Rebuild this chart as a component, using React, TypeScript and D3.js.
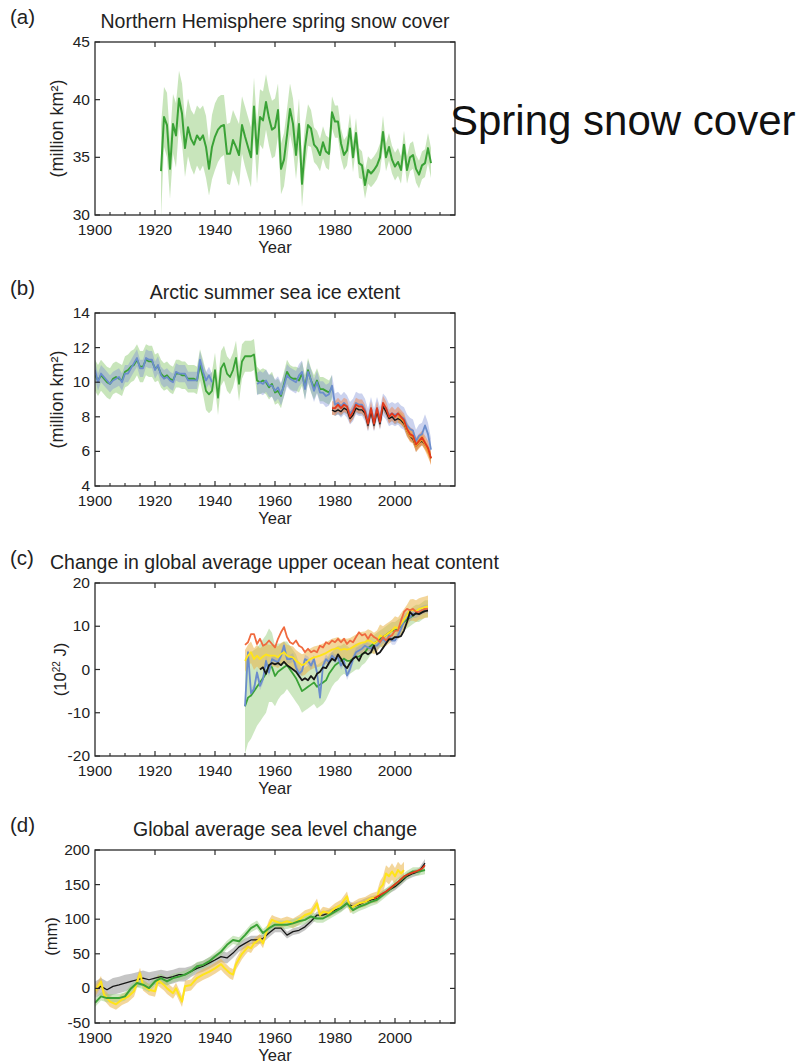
import React from "react";
import * as d3 from "d3";

const FONT = "'Liberation Sans', Arial, Helvetica, sans-serif";

// ---------- shared axis data ----------
const xDomain = [1900, 2020];
const xTickLabels = [1900, 1920, 1940, 1960, 1980, 2000];

// ---------- (a) Northern Hemisphere spring snow cover ----------
const snowStart = 1922;
const snowValues = [
  33.8, 38.5, 37.8, 34.0, 37.9, 36.9, 40.1, 38.8, 35.8, 37.6,
  36.6, 36.1, 36.9, 36.5, 36.9, 35.9, 34.0, 35.9, 36.8, 37.4,
  37.7, 37.8, 35.3, 35.3, 36.5, 35.9, 35.2, 37.8, 36.8, 35.9,
  35.0, 39.4, 35.3, 38.5, 38.2, 39.8, 38.4, 37.4, 37.6, 39.1,
  34.0, 34.8, 36.9, 39.2, 37.9, 35.2, 37.9, 32.7, 35.9, 37.8,
  37.5, 36.1, 35.8, 35.2, 36.3, 35.5, 35.3, 38.9, 38.1, 38.1,
  36.2, 35.2, 35.6, 37.5, 35.0, 37.1, 34.5, 34.3, 32.6, 33.9,
  33.6, 33.9, 34.3, 35.0, 37.2, 35.0, 35.9, 34.8, 34.2, 34.6,
  33.9, 36.1, 33.9, 35.0, 35.2, 34.0, 33.5, 34.3, 34.5, 35.8,
  34.5,
];
const snowUnc = [
  4.0, 2.6, 2.8, 2.6, 2.6, 2.8, 2.4, 2.6, 2.5, 2.5,
  2.5, 2.6, 2.6, 2.7, 2.6, 2.7, 2.3, 2.8, 2.9, 2.8,
  2.7, 2.6, 2.6, 2.7, 2.6, 2.6, 2.7, 2.5, 2.6, 2.6,
  2.6, 2.5, 2.6, 2.4, 2.5, 2.4, 2.4, 2.5, 2.5, 2.3,
  2.2, 2.3, 2.3, 2.2, 2.2, 2.1, 2.2, 2.0, 2.0, 1.8,
  1.6, 1.5, 1.5, 1.4, 1.4, 1.4, 1.4, 1.4, 1.4, 1.4,
  1.3, 1.3, 1.3, 1.3, 1.3, 1.3, 1.3, 1.2, 1.2, 1.2,
  1.2, 1.2, 1.2, 1.2, 1.4, 1.2, 1.2, 1.2, 1.2, 1.2,
  1.2, 1.2, 1.2, 1.2, 1.2, 1.2, 1.2, 1.2, 1.2, 1.3,
  1.3,
];

// ---------- (b) Arctic summer sea ice extent ----------
const iceGreenStart = 1900;
const iceGreen = [
  10.4, 10.1, 10.4, 10.2, 10.0, 9.9, 10.2, 10.3, 10.2, 10.1,
  10.6, 10.7, 10.9, 11.0, 11.3, 10.9, 10.9, 11.3, 11.2, 11.2,
  10.8, 10.9, 10.5, 10.3, 10.4, 10.2, 10.1, 10.5, 10.5, 10.4,
  10.4, 10.2, 10.2, 10.2, 10.1, 11.0, 10.3, 9.5, 9.3, 9.5,
  10.7, 9.1, 10.8, 11.1, 10.5, 10.3, 10.7, 11.4, 9.9, 11.2,
  11.5, 11.5, 11.5, 11.6, 10.1, 10.0, 10.1, 10.0, 9.7, 9.9,
  9.4, 9.5, 9.2, 9.9, 10.6, 10.3, 10.2, 10.2, 10.1, 10.5,
  9.7, 10.7, 10.1, 9.7, 10.1, 9.6, 9.6, 9.5, 9.4, 9.7,
];
const iceGreenUnc = [
  0.9, 0.9, 0.9, 0.9, 0.9, 0.9, 0.9, 0.9, 0.9, 0.9,
  0.9, 0.9, 0.9, 0.9, 0.9, 0.9, 0.9, 0.9, 0.9, 0.9,
  0.8, 0.8, 0.8, 0.8, 0.8, 0.8, 0.8, 0.8, 0.8, 0.8,
  0.8, 0.8, 0.8, 0.8, 0.8, 0.9, 1.0, 1.1, 1.1, 1.1,
  1.0, 1.0, 1.0, 1.0, 1.0, 1.0, 1.0, 1.0, 1.0, 1.0,
  0.9, 0.9, 0.9, 0.9, 0.8, 0.7, 0.7, 0.7, 0.7, 0.7,
  0.7, 0.7, 0.7, 0.7, 0.7, 0.7, 0.7, 0.7, 0.7, 0.7,
  0.7, 0.7, 0.7, 0.7, 0.7, 0.7, 0.7, 0.7, 0.7, 0.7,
];
const iceBlueEarlyStart = 1900;
const iceBlueEarly = [
  10.7, 10.0, 10.5, 10.3, 10.1, 9.9, 10.1, 10.2, 10.3, 10.0,
  10.5, 10.5, 10.8, 11.1, 11.4, 10.8, 10.8, 11.4, 11.3, 11.3,
  10.7, 11.0, 10.4, 10.2, 10.3, 10.1, 10.0, 10.6, 10.5, 10.5,
  10.5, 10.1, 10.1, 10.1, 10.1, 11.3, 10.6, 10.1, 10.4, 10.0,
];
const iceBlueLateStart = 1954;
const iceBlueLate = [
  9.9, 10.0, 9.9, 10.1, 9.8, 9.8,
  9.5, 9.7, 9.3, 9.8, 10.4, 10.2, 10.1, 10.0, 10.4, 10.6,
  9.6, 10.6, 10.1, 9.5, 10.0, 9.4, 9.4, 9.2, 9.3, 9.8,
  8.7, 8.8, 8.6, 8.8, 8.6, 8.2, 8.4, 8.8, 8.7, 8.7,
  8.4, 7.8, 8.5, 7.8, 8.5, 7.9, 8.7, 8.5, 8.1, 8.2,
  8.1, 8.2, 8.0, 7.9, 7.5, 7.3, 7.2, 6.6, 6.9, 7.0,
  7.5, 7.0, 6.1,
];
const iceRedStart = 1979;
const iceRed = [
  8.5, 8.5, 8.7, 8.5, 8.7, 8.6, 8.0, 8.3, 8.7, 8.6, 8.6,
  8.3, 7.6, 8.5, 7.6, 8.5, 7.7, 8.8, 8.5, 8.0, 8.2,
  8.0, 8.2, 8.0, 7.8, 7.3, 7.0, 6.9, 6.4, 6.6, 6.8,
  6.5, 6.2, 5.6,
];
const iceBlackStart = 1979;
const iceBlack = [
  8.4, 8.3, 8.4, 8.3, 8.5, 8.4, 7.9, 8.1, 8.5, 8.4, 8.4,
  8.2, 7.5, 8.3, 7.5, 8.3, 7.6, 8.6, 8.3, 7.9, 8.0,
  7.8, 7.9, 7.8, 7.6, 7.2, 6.9, 6.7, 6.3, 6.5, 6.6,
  6.4, 6.1, 5.6,
];
const iceOrangeStart = 2001;
const iceOrange = [8.0, 7.9, 7.7, 7.2, 6.9, 6.8, 6.3, 6.5, 6.7, 6.4, 6.0, 5.6];

// ---------- (c) Upper ocean heat content ----------
const ohcStart = 1950;
const ohcRed = [
  5.7, 6.3, 8.2, 8.2, 5.9, 7.1, 5.5, 5.9, 6.7, 5.9,
  5.1, 7.1, 8.6, 9.8, 7.5, 6.3, 5.9, 6.7, 5.5, 5.1,
  4.0, 4.8, 4.0, 4.4, 4.0, 5.5, 5.1, 6.3, 5.9, 6.7,
  6.3, 7.1, 6.3, 7.1, 5.9, 6.7, 6.3, 7.5, 8.6, 7.9,
  8.2, 7.1, 8.2, 7.5, 7.1, 6.3, 7.5, 6.7, 7.5, 7.9,
  9.0, 9.0, 11.3, 13.3, 14.0, 13.7, 14.0, 13.3, 13.3, 13.7,
  14.0, 14.0,
];
const ohcYellow = [
  2.0, 3.2, 4.0, 2.4, 3.2, 2.4, 3.0, 3.5, 3.2, 3.2,
  3.2, 2.8, 3.6, 4.0, 3.2, 3.0, 2.8, 2.0, 1.5, 1.0,
  1.3, 2.0, 2.5, 2.8, 3.0, 3.2, 3.5, 3.8, 4.2, 4.6,
  4.8, 5.0, 4.5, 4.8, 4.6, 4.8, 5.2, 5.6, 6.0, 6.2,
  6.3, 6.8, 6.5, 6.0, 6.5, 7.9, 7.5, 8.0, 8.5, 9.0,
  9.8, 9.5, 10.5, 11.5, 12.5, 13.7, 13.8, 13.5, 14.0, 14.2,
  14.4, 14.6,
];
const ohcBlue = [
  -8.5, 4.0, -5.5, -4.5, -0.7, -3.8, -2.2, 2.0, -0.7, 2.4,
  2.0, 1.7, 3.2, 5.5, 2.4, 2.4, 2.8, 0.5, -1.0, -0.3,
  2.4, 2.0, 0.9, 2.4, -0.7, -6.5, 0.9, 2.4, 1.7, 3.2,
  2.4, 2.8, 0.9, 2.0, -1.4, 0.1, 2.4, 4.0, 4.4, 4.8,
  5.5, 5.1, 4.8, 5.5, 5.5, 6.3, 7.1, 6.3, 7.9, 6.7,
  6.7, 7.9, 9.4, 11.3, 12.1, 12.1, 12.9, 12.9, 13.3, 13.7,
  14.0, 14.0,
];
const ohcGreen = [
  -8.5, -6.5, -6.0, -5.0, -4.0, -3.0, -2.0, -1.0, 1.0, 0.5,
  -1.5, -0.5, 0.0, 0.5, 1.0, 0.0, -1.0, -2.0, -3.5, -5.0,
  -4.5, -4.0, -3.5, -3.0, -4.0, -3.5, -3.0, -2.5, -1.0, 0.0,
  1.0, 1.5, 2.0, 2.5, 2.0, 2.0, 2.5, 3.0, 3.0, 3.5,
  4.0, 5.0, 5.5, 6.0, 6.5, 7.0, 7.5, 8.0, 8.5, 9.0,
  9.0, 9.5, 10.0, 11.0, 11.5, 12.0, 12.5, 13.0, 13.0, 13.5,
  14.0, 14.0,
];
const ohcGreenUnc = [
  11, 10.5, 10, 9.5, 9, 9, 9, 9, 8.5, 8,
  7, 6.5, 6, 6, 5.5, 5.5, 5.5, 5.5, 5, 5,
  5, 5, 5, 5, 5, 5, 5, 4.5, 4.5, 4,
  4, 4, 3.5, 3.5, 3.5, 3, 3, 3, 3, 2.5,
  2.5, 2.5, 2, 2, 2, 2, 2, 2, 2, 2,
  2, 2, 2, 2, 2, 2, 2, 2, 2, 2,
  2, 2,
];
const ohcBlackStart = 1955;
const ohcBlack = [
  0.0, 0.5, -1.0, 1.0, 1.5,
  1.2, 1.5, 1.0, 1.8, 1.0, 0.5, 0.0, -0.5, -1.5, -2.5,
  -2.0, -2.5, -1.5, -2.3, -1.0, -0.5, 0.5, 0.3, 1.5, 2.5,
  2.0, 3.5, 2.5, 1.0, 0.3, 1.5, 2.5, 3.0, 2.0, 3.5,
  4.0, 3.5, 4.0, 5.5, 3.5, 4.0, 5.0, 6.0, 7.0, 7.0,
  7.5, 7.5, 7.7, 9.0, 11.0, 13.3, 12.5, 13.0, 12.8, 13.2,
  13.5, 13.6,
];

// ---------- (d) Global average sea level ----------
const slYears2 = [
  1900, 1902, 1904, 1906, 1908, 1910, 1912, 1914, 1916, 1918,
  1920, 1922, 1924, 1926, 1928, 1930, 1932, 1934, 1936, 1938,
  1940, 1942, 1944, 1946, 1948, 1950, 1952, 1954, 1956, 1958,
  1960, 1962, 1964, 1966, 1968, 1970, 1972, 1974, 1976, 1978,
  1980, 1982, 1984, 1986, 1988, 1990, 1992, 1994, 1996, 1998,
  2000, 2002, 2004, 2006, 2008, 2010,
];
const slGreen = [
  -21, -11.5, -14, -14, -14, -11.5, 0, 7.7, 5.3, 0.5,
  10, 15, 10, 15, 17, 20, 24.5, 32, 34, 39,
  46, 53, 63, 70, 68, 77, 87, 92, 80, 87,
  92, 92, 92, 94, 97, 99, 104, 101, 101, 106,
  111, 116, 123, 113, 118, 121, 125, 128, 135, 142,
  150, 157, 164, 169, 169, 171,
];
const slBlack = [
  -2, 3, -2, 3, 5, 7.7, 10, 12.5, 15, 12.5,
  15, 17, 15, 17, 20, 20, 24.5, 29, 32, 36.5,
  41, 46, 44, 51, 60, 65, 70, 70, 72, 80,
  87, 87, 77, 82, 84, 89, 97, 106, 106, 109,
  113, 116, 123, 118, 121, 125, 128, 130, 137, 142,
  147, 154, 162, 166, 169, 181,
];
const slBlackUnc = [
  12, 12, 12, 12, 12, 12, 11, 11, 11, 11,
  10, 10, 10, 10, 10, 10, 8, 8, 8, 8,
  8, 8, 8, 7, 7, 7, 6, 6, 6, 6,
  6, 6, 5, 5, 5, 5, 5, 5, 5, 5,
  5, 5, 5, 5, 5, 5, 5, 5, 5, 5,
  5, 5, 5, 5, 5, 6,
];
const slYellowYears = [
  1900, 1902, 1903, 1905, 1907, 1909, 1911, 1913, 1915, 1916,
  1918, 1920, 1921, 1923, 1924, 1926, 1927, 1929, 1930, 1932,
  1934, 1936, 1938, 1940, 1942, 1943, 1945, 1946, 1947, 1949,
  1950, 1951, 1952, 1953, 1954, 1955, 1956, 1957, 1958, 1959,
  1960, 1962, 1964, 1966, 1968, 1970, 1972, 1974, 1975, 1976,
  1978, 1980, 1982, 1984, 1985, 1986, 1988, 1990, 1992, 1994,
  1995, 1996, 1997, 1998, 1999, 2000, 2001, 2002, 2003,
];
const slYellow = [
  -4, 10, -9, -19, -23, -16, -12, -4, 22, 5,
  -2, -4, 12, 5, 0, -7, 0, -19, 3, 5,
  15, 20, 24, 29, 35, 30, 22, 20, 35, 50,
  55, 60, 58, 65, 68, 72, 65, 80, 92, 99,
  97, 94, 97, 94, 99, 106, 109, 123, 106, 111,
  109, 116, 121, 133, 116, 118, 123, 125, 130, 132,
  145, 150, 166, 162, 169, 162, 171, 166, 171,
];
const slYellowUnc = [
  8, 8, 8, 8, 8, 8, 8, 8, 8, 8,
  8, 8, 8, 8, 8, 8, 8, 8, 8, 8,
  8, 8, 8, 8, 8, 8, 8, 8, 8, 8,
  7, 7, 7, 7, 7, 7, 7, 7, 7, 7,
  7, 7, 7, 7, 7, 7, 7, 7, 7, 7,
  7, 7, 7, 7, 7, 7, 7, 7, 7, 8,
  10, 12, 12, 12, 12, 12, 12, 12, 12,
];
const slRedYears = [1993, 1995, 1997, 1999, 2001, 2003, 2005, 2007, 2009, 2010];
const slRed = [130, 135, 140, 147, 154, 162, 166, 169, 173, 178];

// ---------- colours ----------
const C = {
  green: "#3aa236",
  greenBand: "#9bcf84",
  blue: "#6b8dcc",
  blueBand: "#7e8fd4",
  black: "#161616",
  grayBand: "#8c8c8c",
  red: "#e2391c",
  redBand: "#f08a5a",
  orange: "#f29a2a",
  yellow: "#ffe419",
  goldBand: "#e9b448",
  ohcRed: "#f06a3e",
};

const yrs = (start: number, n: number) => d3.range(start, start + n);

type Series = {
  years: number[];
  values: number[];
  unc?: number | number[];
  line?: string;
  lw?: number;
  band?: string;
  bandOpacity?: number;
};

const X0 = 95;
const X1 = 455;
const PH = 173;

function Panel(props: {
  top: number;
  letter: string;
  title: string;
  titleLeft?: boolean;
  yDomain: [number, number];
  yTicks: number[];
  yLabel: React.ReactNode;
  yLabelX: number;
  yLabelSize: number;
  bands: Series[];
  lines: Series[];
  id: string;
}) {
  const { top, letter, title, titleLeft, yDomain, yTicks, yLabel, yLabelX, yLabelSize, bands, lines, id } = props;
  const x = d3.scaleLinear().domain(xDomain).range([X0, X1]);
  const y = d3.scaleLinear().domain(yDomain).range([top + PH, top]);
  const bottom = top + PH;
  const minor = d3.range(1905, 2020, 5).filter((v) => v % 20 !== 0);
  const major = d3.range(1920, 2020, 20);

  const areaOf = (s: Series) => {
    const u = (i: number) => (Array.isArray(s.unc) ? s.unc[i] : (s.unc as number));
    const idx = s.years.map((_, i) => i);
    return d3
      .area<number>()
      .x((i) => x(s.years[i]))
      .y0((i) => y(s.values[i] - u(i)))
      .y1((i) => y(s.values[i] + u(i)))(idx) as string;
  };
  const lineOf = (s: Series) => {
    const idx = s.years.map((_, i) => i);
    return d3
      .line<number>()
      .x((i) => x(s.years[i]))
      .y((i) => y(s.values[i]))(idx) as string;
  };

  const mid = (X0 + X1) / 2;
  return (
    <g fontFamily={FONT} fill="#222">
      <defs>
        <clipPath id={id}>
          <rect x={X0} y={top} width={X1 - X0} height={PH} />
        </clipPath>
      </defs>
      <text x={10} y={top - 18} fontSize={20.5}>
        {letter}
      </text>
      <text
        x={titleLeft ? 50 : mid}
        y={top - 14}
        fontSize={19.5}
        textAnchor={titleLeft ? "start" : "middle"}
      >
        {title}
      </text>
      <g clipPath={`url(#${id})`}>
        {bands.map((s, i) => (
          <path key={"b" + i} d={areaOf(s)} fill={s.band} fillOpacity={s.bandOpacity ?? 0.5} stroke="none" />
        ))}
        {lines.map((s, i) => (
          <path
            key={"l" + i}
            d={lineOf(s)}
            fill="none"
            stroke={s.line}
            strokeWidth={s.lw ?? 1.8}
            strokeLinejoin="round"
          />
        ))}
      </g>
      <rect x={X0} y={top} width={X1 - X0} height={PH} fill="none" stroke="#2a2a2a" strokeWidth={1.3} />
      {major.map((v) => (
        <g key={"M" + v} stroke="#2a2a2a" strokeWidth={1.2}>
          <line x1={x(v)} x2={x(v)} y1={bottom} y2={bottom - 5} />
          <line x1={x(v)} x2={x(v)} y1={top} y2={top + 5} />
        </g>
      ))}
      {minor.map((v) => (
        <line key={"m" + v} x1={x(v)} x2={x(v)} y1={bottom} y2={bottom - 3} stroke="#2a2a2a" strokeWidth={1.1} />
      ))}
      {yTicks.map((v) => (
        <g key={"y" + v}>
          <line x1={X0} x2={X0 + 5} y1={y(v)} y2={y(v)} stroke="#2a2a2a" strokeWidth={1.2} />
          <line x1={X1} x2={X1 - 5} y1={y(v)} y2={y(v)} stroke="#2a2a2a" strokeWidth={1.2} />
          <text x={X0 - 5} y={y(v) + 5} fontSize={15.5} textAnchor="end">
            {String(v)}
          </text>
        </g>
      ))}
      {xTickLabels.map((v) => (
        <text key={"x" + v} x={x(v)} y={bottom + 20} fontSize={15.5} textAnchor="middle">
          {v}
        </text>
      ))}
      <text x={mid} y={bottom + 38} fontSize={16.5} textAnchor="middle">
        Year
      </text>
      <text
        transform={`translate(${yLabelX},${top + PH / 2}) rotate(-90)`}
        fontSize={yLabelSize}
        textAnchor="middle"
      >
        {yLabel}
      </text>
    </g>
  );
}

export default function App() {
  // (a)
  const snow: Series = {
    years: yrs(snowStart, snowValues.length),
    values: snowValues,
    unc: snowUnc,
    line: C.green,
    lw: 2,
    band: C.greenBand,
    bandOpacity: 0.55,
  };
  // (b)
  const iG: Series = { years: yrs(iceGreenStart, iceGreen.length), values: iceGreen, unc: iceGreenUnc, line: C.green, band: C.greenBand, bandOpacity: 0.55 };
  const iB1: Series = { years: yrs(iceBlueEarlyStart, iceBlueEarly.length), values: iceBlueEarly, unc: 0.5, line: C.blue, band: C.blueBand, bandOpacity: 0.4 };
  const iB2: Series = { years: yrs(iceBlueLateStart, iceBlueLate.length), values: iceBlueLate, unc: 0.65, line: C.blue, band: C.blueBand, bandOpacity: 0.4 };
  const iR: Series = { years: yrs(iceRedStart, iceRed.length), values: iceRed, unc: 0.4, line: C.red, band: C.redBand, bandOpacity: 0.55 };
  const iK: Series = { years: yrs(iceBlackStart, iceBlack.length), values: iceBlack, unc: 0.25, line: C.black, lw: 1.4, band: C.grayBand, bandOpacity: 0.5 };
  const iO: Series = { years: yrs(iceOrangeStart, iceOrange.length), values: iceOrange, unc: 0.35, line: C.orange, band: C.orange, bandOpacity: 0.45 };
  // (c)
  const oYears = yrs(ohcStart, ohcRed.length);
  const oG: Series = { years: oYears, values: ohcGreen, unc: ohcGreenUnc, line: C.green, band: C.greenBand, bandOpacity: 0.5 };
  const oY: Series = { years: oYears, values: ohcYellow, unc: 2.5, line: C.yellow, band: C.goldBand, bandOpacity: 0.55 };
  const oB: Series = { years: oYears, values: ohcBlue, unc: 1.0, line: C.blue, band: C.blueBand, bandOpacity: 0.3 };
  const oR: Series = { years: oYears, values: ohcRed, line: C.ohcRed };
  const oK: Series = { years: yrs(ohcBlackStart, ohcBlack.length), values: ohcBlack, line: C.black };
  // (d)
  const sK: Series = { years: slYears2, values: slBlack, unc: slBlackUnc, line: C.black, lw: 1.3, band: C.grayBand, bandOpacity: 0.5 };
  const sY: Series = { years: slYellowYears, values: slYellow, unc: slYellowUnc, line: C.yellow, lw: 2, band: C.goldBand, bandOpacity: 0.55 };
  const sG: Series = { years: slYears2, values: slGreen, unc: 6, line: C.green, lw: 2, band: C.greenBand, bandOpacity: 0.5 };
  const sR: Series = { years: slRedYears, values: slRed, line: C.red, lw: 1.8 };

  return (
    <svg width={802} height={1063} style={{ display: "block", position: "absolute", left: 0, top: 0, background: "#fff" }}>
      <rect x={0} y={0} width={802} height={1063} fill="#fff" />
      <Panel
        id="clipA"
        top={42}
        letter="(a)"
        title="Northern Hemisphere spring snow cover"
        yDomain={[30, 45]}
        yTicks={[30, 35, 40, 45]}
        yLabel={"(million km²)"}
        yLabelX={63}
        yLabelSize={18}
        bands={[snow]}
        lines={[snow]}
      />
      <Panel
        id="clipB"
        top={313}
        letter="(b)"
        title="Arctic summer sea ice extent"
        yDomain={[4, 14]}
        yTicks={[4, 6, 8, 10, 12, 14]}
        yLabel={"(million km²)"}
        yLabelX={63}
        yLabelSize={18}
        bands={[iG, iB1, iB2, iK, iR, iO]}
        lines={[iG, iB1, iB2, iK, iO, iR]}
      />
      <Panel
        id="clipC"
        top={583}
        letter="(c)"
        title="Change in global average upper ocean heat content"
        titleLeft
        yDomain={[-20, 20]}
        yTicks={[-20, -10, 0, 10, 20]}
        yLabel={
          <>
            (10
            <tspan fontSize={10} dy={-6}>22</tspan>
            <tspan dy={6}> J)</tspan>
          </>
        }
        yLabelX={66}
        yLabelSize={16.5}
        bands={[oG, oY, oB]}
        lines={[oG, oB, oY, oR, oK]}
      />
      <Panel
        id="clipD"
        top={850}
        letter="(d)"
        title="Global average sea level change"
        yDomain={[-50, 200]}
        yTicks={[-50, 0, 50, 100, 150, 200]}
        yLabel={"(mm)"}
        yLabelX={57}
        yLabelSize={16.5}
        bands={[sK, sY, sG]}
        lines={[sK, sY, sG, sR]}
      />
      <text x={450} y={135} fontFamily={FONT} fontSize={42} fill="#111">
        Spring snow cover
      </text>
    </svg>
  );
}
